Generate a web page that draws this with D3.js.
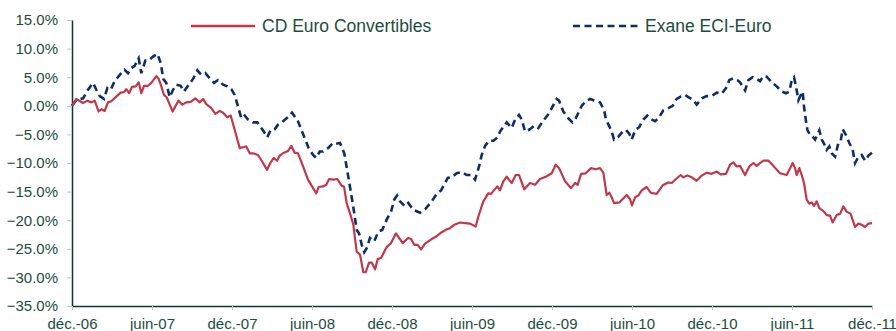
<!DOCTYPE html>
<html>
<head>
<meta charset="utf-8">
<script src="https://cdn.jsdelivr.net/npm/d3@7"></script>
<style>
  html, body { margin: 0; padding: 0; background: #ffffff; }
  svg { display: block; font-family: "Liberation Sans", Arial, sans-serif; }
</style>
</head>
<body>
<svg id="chart" width="896" height="331"></svg>
<script>
// Cumulative performance (%) since end of December 2006, x in months since that date
const seriesNames = ["CD Euro Convertibles", "Exane ECI-Euro"];

const cdMonths = [0, 0.32, 0.83, 1.15, 1.45, 1.70, 2.00, 2.20, 2.45, 2.70, 2.95, 3.32, 3.65, 3.90, 4.07, 4.28, 4.50, 4.78, 5.00, 5.20, 5.40, 5.70, 5.95, 6.32, 6.50, 6.70, 6.90, 7.10, 7.33, 7.55, 7.75, 8.00, 8.25, 8.57, 8.90, 9.25, 9.58, 9.83, 10.07, 10.45, 10.75, 11.08, 11.33, 11.65, 11.90, 12.20, 12.58, 12.90, 13.07, 13.33, 13.58, 13.95, 14.25, 14.63, 14.87, 15.13, 15.38, 15.58, 15.90, 16.20, 16.45, 16.70, 16.95, 17.33, 17.70, 18.08, 18.32, 18.50, 18.83, 19.07, 19.28, 19.58, 19.90, 20.23, 20.40, 20.60, 20.85, 21.10, 21.35, 21.60, 21.85, 22.03, 22.28, 22.48, 22.73, 22.93, 23.18, 23.60, 23.93, 24.30, 24.53, 24.80, 25.22, 25.43, 25.67, 25.93, 26.18, 26.48, 26.98, 27.35, 27.73, 28.10, 28.35, 28.67, 29.10, 29.48, 29.85, 30.28, 30.47, 30.85, 31.22, 31.43, 31.67, 31.90, 32.10, 32.35, 32.60, 32.98, 33.28, 33.53, 33.92, 34.35, 34.73, 35.10, 35.53, 35.98, 36.28, 36.53, 36.98, 37.43, 37.73, 37.93, 38.18, 38.53, 38.93, 39.28, 39.60, 39.85, 40.10, 40.30, 40.48, 40.65, 41.05, 41.60, 41.85, 42.00, 42.23, 42.47, 42.73, 43.10, 43.40, 43.85, 44.30, 44.72, 44.98, 45.30, 45.65, 45.85, 46.15, 46.48, 46.85, 47.23, 47.60, 47.98, 48.35, 48.65, 49.05, 49.35, 49.60, 49.85, 50.10, 50.48, 50.80, 51.10, 51.35, 51.55, 51.85, 52.23, 52.60, 53.10, 53.60, 53.80, 54.05, 54.23, 54.35, 54.55, 54.73, 54.90, 55.10, 55.30, 55.48, 55.65, 55.85, 56.05, 56.23, 56.40, 56.60, 56.85, 57.05, 57.35, 57.60, 57.85, 58.10, 58.40, 58.73, 58.98, 59.23, 59.48, 59.73, 60.00];
const cdValues = [0, 1.2, 0.5, 0.9, 0.6, 0.9, -1.0, -0.6, -0.9, 0.6, 0.8, 1.6, 2.3, 2.4, 2.9, 2.2, 3.3, 3.4, 4.1, 2.2, 3.5, 3.5, 4.0, 5.2, 4.7, 3.4, 1.9, 1.5, 0.2, -1.0, -0.1, 0.9, 0.2, 0.6, 0.7, 1.3, 0.6, 1.2, 0.3, -0.4, -1.4, -0.9, -1.2, -2.0, -1.7, -4.2, -7.4, -7.2, -7.1, -8.3, -8.3, -8.6, -9.7, -11.2, -10.0, -9.1, -9.6, -8.7, -8.2, -7.9, -7.0, -8.2, -8.3, -10.6, -12.9, -14.4, -15.3, -14.2, -14.1, -13.8, -12.8, -12.9, -12.8, -14.0, -14.1, -17.0, -18.8, -20.8, -25.5, -26.0, -29.1, -29.1, -27.4, -27.4, -28.6, -26.8, -26.6, -24.7, -24.0, -22.3, -23.1, -24.0, -23.1, -23.3, -24.3, -24.3, -25.1, -24.1, -23.3, -22.8, -22.1, -21.6, -21.4, -20.8, -20.4, -20.5, -20.6, -21.1, -19.4, -16.7, -15.3, -15.4, -14.7, -14.1, -14.8, -13.2, -12.4, -13.5, -12.1, -12.1, -14.6, -13.5, -13.8, -12.8, -12.4, -11.8, -10.3, -10.9, -13.2, -14.4, -13.5, -13.8, -11.9, -11.8, -10.9, -11.1, -10.9, -11.7, -15.6, -15.2, -16.0, -17.0, -16.9, -15.6, -16.3, -17.4, -16.0, -15.7, -14.8, -14.2, -15.2, -15.4, -13.9, -13.4, -13.5, -12.8, -12.1, -12.5, -12.2, -12.5, -13.1, -12.2, -11.7, -11.9, -11.5, -12.0, -11.9, -10.3, -9.9, -10.6, -10.5, -12.1, -10.6, -10.0, -10.5, -10.1, -9.6, -9.6, -10.5, -11.8, -12.1, -11.2, -10.0, -10.9, -12.1, -10.9, -12.1, -13.5, -16.4, -17.1, -16.9, -17.5, -16.7, -17.9, -18.2, -18.5, -19.1, -19.2, -20.4, -19.1, -18.9, -17.6, -18.5, -18.9, -21.2, -20.6, -20.8, -21.2, -20.6, -20.5];

const eciMonths = [0, 0.32, 0.83, 1.20, 1.58, 1.82, 2.08, 2.40, 2.65, 2.90, 3.20, 3.58, 3.95, 4.20, 4.45, 4.70, 5.00, 5.20, 5.50, 5.75, 6.08, 6.40, 6.65, 6.85, 7.07, 7.33, 7.58, 7.82, 8.15, 8.40, 8.70, 9.08, 9.40, 9.70, 10.00, 10.33, 10.65, 10.95, 11.33, 11.65, 11.95, 12.20, 12.45, 12.70, 12.95, 13.20, 13.58, 13.90, 14.20, 14.50, 14.65, 14.90, 15.20, 15.45, 15.83, 16.20, 16.50, 16.75, 16.95, 17.20, 17.50, 17.75, 18.08, 18.32, 18.58, 18.83, 19.20, 19.58, 19.90, 20.10, 20.42, 20.68, 20.93, 21.17, 21.35, 21.53, 21.73, 21.92, 22.10, 22.35, 22.67, 22.97, 23.27, 23.60, 23.93, 24.17, 24.38, 24.60, 24.98, 25.22, 25.60, 26.10, 26.48, 26.98, 27.35, 27.68, 27.98, 28.18, 28.48, 28.85, 29.23, 29.60, 29.93, 30.23, 30.53, 30.73, 30.98, 31.28, 31.60, 31.93, 32.10, 32.35, 32.60, 32.98, 33.23, 33.53, 33.73, 33.98, 34.35, 34.67, 34.97, 35.35, 35.68, 35.98, 36.35, 36.53, 36.85, 37.23, 37.53, 37.78, 38.03, 38.23, 38.53, 38.85, 39.23, 39.60, 39.90, 40.05, 40.30, 40.48, 40.65, 40.98, 41.30, 41.55, 41.80, 41.98, 42.23, 42.55, 42.85, 43.15, 43.40, 43.73, 43.98, 44.35, 44.72, 45.05, 45.35, 45.65, 45.98, 46.23, 46.60, 46.85, 47.23, 47.60, 47.98, 48.35, 48.73, 49.05, 49.30, 49.60, 49.90, 50.10, 50.48, 50.73, 51.05, 51.35, 51.60, 51.85, 52.10, 52.48, 52.85, 53.23, 53.55, 53.80, 53.98, 54.15, 54.30, 54.48, 54.60, 54.80, 54.90, 55.05, 55.15, 55.35, 55.55, 55.73, 55.90, 56.05, 56.23, 56.40, 56.60, 56.80, 56.98, 57.23, 57.48, 57.65, 57.80, 58.05, 58.30, 58.55, 58.73, 58.98, 59.23, 59.48, 59.73, 60.00];
const eciValues = [0, 1.0, 1.3, 2.8, 4.0, 2.8, 1.7, 1.2, 3.1, 2.8, 4.3, 5.4, 6.3, 5.7, 6.6, 7.0, 8.3, 5.7, 7.9, 7.9, 8.6, 9.1, 7.5, 4.7, 4.0, 1.5, 2.8, 3.7, 3.5, 2.5, 3.5, 4.7, 6.2, 5.4, 5.7, 4.8, 4.0, 4.5, 3.7, 3.4, 2.9, 1.9, -0.1, -2.2, -1.7, -2.4, -2.9, -2.9, -3.9, -4.9, -5.5, -4.2, -4.1, -3.3, -2.7, -2.0, -1.2, -2.0, -2.7, -4.2, -5.9, -7.4, -8.6, -9.1, -8.0, -8.0, -7.4, -6.5, -6.6, -6.5, -8.3, -11.8, -15.3, -18.8, -21.7, -22.3, -24.3, -25.6, -24.9, -23.1, -23.7, -22.0, -21.7, -19.9, -18.5, -16.4, -15.7, -16.7, -17.6, -17.0, -18.2, -18.7, -18.1, -16.7, -15.4, -14.8, -13.5, -12.6, -12.5, -11.8, -11.6, -12.1, -12.1, -12.9, -10.6, -8.6, -7.0, -6.1, -6.1, -5.5, -4.5, -3.7, -2.9, -3.9, -2.4, -1.6, -2.4, -4.5, -4.1, -3.5, -3.9, -2.6, -1.6, -0.4, 1.2, 0.9, -1.0, -2.2, -2.9, -2.2, -1.0, 0.0, 0.8, 1.2, 0.9, 0.6, -0.7, -2.4, -3.6, -4.5, -5.9, -5.4, -4.5, -4.2, -4.9, -5.9, -4.3, -3.7, -2.4, -1.7, -2.3, -2.7, -2.2, -0.8, -0.4, 0.0, 1.2, 1.6, 1.9, 1.5, 1.0, 0.2, 1.3, 1.7, 1.7, 2.3, 2.1, 3.1, 4.5, 4.8, 4.5, 4.1, 2.7, 4.5, 5.0, 4.7, 4.3, 5.2, 5.1, 4.1, 3.4, 2.5, 2.2, 2.5, 4.5, 5.0, 3.4, 1.0, 1.6, 2.5, -0.1, -2.7, -4.2, -5.1, -5.4, -5.9, -5.1, -4.3, -5.9, -6.6, -7.7, -7.1, -8.3, -8.9, -6.5, -6.2, -4.1, -5.1, -6.5, -7.7, -10.0, -8.9, -8.6, -9.6, -8.7, -8.2];

const xTickMonths = [0, 6, 12, 18, 24, 30, 36, 42, 48, 54, 60];
const xTickLabels = ["déc.-06", "juin-07", "déc.-07", "juin-08", "déc.-08", "juin-09", "déc.-09", "juin-10", "déc.-10", "juin-11", "déc.-11"];
const yTicks = [15, 10, 5, 0, -5, -10, -15, -20, -25, -30, -35];

const textColor = "#1d4d3b";
const axisColor = "#0e3a2b";
const tickColor = "#b9c2bd";
const cdColor = "#bf394b";
const eciColor = "#0d2d66";

const svg = d3.select("#chart");

const x = d3.scaleLinear().domain([0, 60]).range([72, 872]);
const y = d3.scaleLinear().domain([-35, 15]).range([306, 20]);

// Y axis
const yAxis = svg.append("g")
  .attr("transform", `translate(${x(0)},0)`)
  .call(d3.axisLeft(y)
    .tickValues(yTicks)
    .tickFormat(d => d3.format(".1f")(d) + "%")
    .tickSizeInner(5)
    .tickSizeOuter(0)
    .tickPadding(9));
yAxis.select(".domain").attr("stroke", axisColor).attr("stroke-width", 1.5);
yAxis.selectAll(".tick line").attr("stroke", tickColor);
yAxis.selectAll(".tick text")
  .attr("fill", textColor)
  .style("font-size", "15px")
  .style("font-family", "'Liberation Sans', Arial, sans-serif");

// X axis
const xAxis = svg.append("g")
  .attr("transform", `translate(0,${y(-35)})`)
  .call(d3.axisBottom(x)
    .tickValues(xTickMonths)
    .tickFormat((d, i) => xTickLabels[i])
    .tickSizeInner(4)
    .tickSizeOuter(0)
    .tickPadding(8));
xAxis.select(".domain").attr("stroke", axisColor).attr("stroke-width", 1.5);
xAxis.selectAll(".tick line").attr("stroke", tickColor);
xAxis.selectAll(".tick text")
  .attr("fill", textColor)
  .style("font-size", "15px")
  .style("font-family", "'Liberation Sans', Arial, sans-serif");

// Series lines
const line = d3.line()
  .x(d => x(d[0]))
  .y(d => y(d[1]));

svg.append("path")
  .datum(d3.zip(eciMonths, eciValues))
  .attr("fill", "none")
  .attr("stroke", eciColor)
  .attr("stroke-width", 2.6)
  .attr("stroke-dasharray", "7,4.5")
  .attr("d", line);

svg.append("path")
  .datum(d3.zip(cdMonths, cdValues))
  .attr("fill", "none")
  .attr("stroke", cdColor)
  .attr("stroke-width", 2.2)
  .attr("stroke-linejoin", "round")
  .attr("d", line);

// Legend
const legend = svg.append("g");
const legendItems = [
  { name: seriesNames[0], color: cdColor, dash: null, width: 2.4, x0: 191, x1: 255, tx: 262 },
  { name: seriesNames[1], color: eciColor, dash: "7,4.5", width: 2.6, x0: 573, x1: 638, tx: 645 }
];
legendItems.forEach(item => {
  legend.append("line")
    .attr("x1", item.x0).attr("x2", item.x1)
    .attr("y1", 26).attr("y2", 26)
    .attr("stroke", item.color)
    .attr("stroke-width", item.width)
    .attr("stroke-dasharray", item.dash);
  legend.append("text")
    .attr("x", item.tx)
    .attr("y", 32)
    .attr("fill", textColor)
    .style("font-size", "17.5px")
    .text(item.name);
});
</script>
</body>
</html>
